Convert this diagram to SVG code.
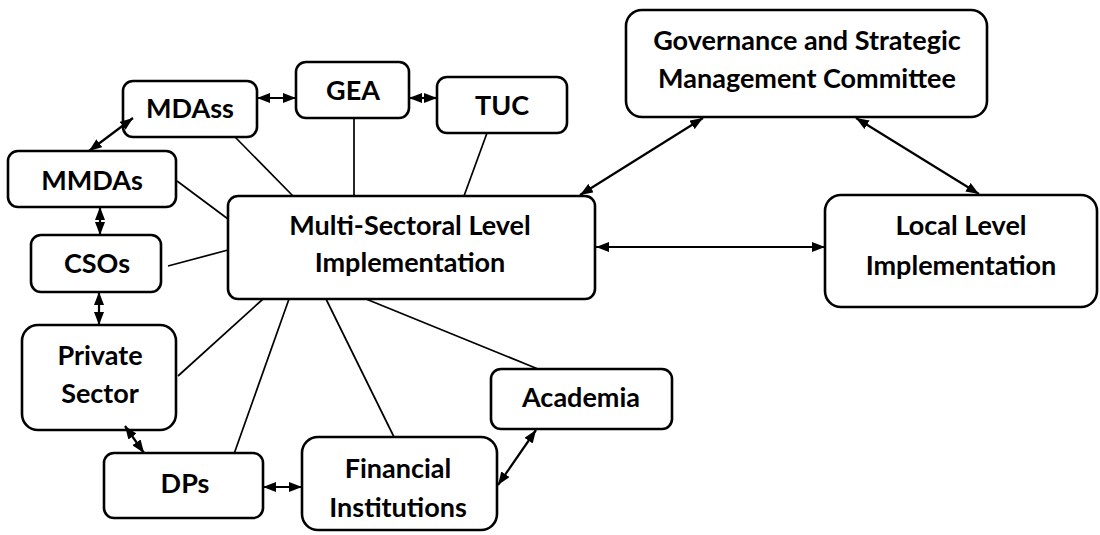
<svg xmlns="http://www.w3.org/2000/svg" width="1100" height="535" viewBox="0 0 1100 535">
  <style>
    .box { fill: #ffffff; stroke: #000000; stroke-width: 2.6; }
    .lbl { font-family: Lato, "Open Sans", "Liberation Sans", sans-serif; font-weight: bold; font-size: 27px; fill: #000000; text-anchor: middle; }
    .link { stroke: #000000; stroke-width: 1.7; fill: none; }
    .both { stroke: #000000; stroke-width: 2.2; fill: none; marker-start: url(#head); marker-end: url(#head); }
  </style>
  <defs>
    <marker id="head" markerUnits="userSpaceOnUse" markerWidth="13" markerHeight="10" refX="13" refY="5" orient="auto-start-reverse">
      <path d="M0,0 L13,5 L0,10 z" fill="#000000"/>
    </marker>
  </defs>

  <rect width="1100" height="535" fill="#ffffff"/>

  <g id="governance">
    <rect class="box" x="626" y="10" width="361" height="107" rx="16"/>
    <text class="lbl" x="807" y="50">Governance and Strategic</text>
    <text class="lbl" x="807" y="88">Management Committee</text>
  </g>
  <g id="local-level">
    <rect class="box" x="825" y="195" width="272" height="112" rx="16"/>
    <text class="lbl" x="961" y="235">Local Level</text>
    <text class="lbl" x="961" y="275">Implementation</text>
  </g>
  <g id="multi-sectoral">
    <rect class="box" x="228" y="196" width="367" height="103" rx="10"/>
    <text class="lbl" x="410" y="235">Multi-Sectoral Level</text>
    <text class="lbl" x="410" y="272">Implementation</text>
  </g>
  <g id="mdass">
    <rect class="box" x="123" y="81" width="134" height="56" rx="10"/>
    <text class="lbl" x="190" y="118">MDAss</text>
  </g>
  <g id="gea">
    <rect class="box" x="296" y="62" width="113" height="56" rx="10"/>
    <text class="lbl" x="353" y="100">GEA</text>
  </g>
  <g id="tuc">
    <rect class="box" x="437" y="77" width="130" height="56" rx="10"/>
    <text class="lbl" x="502" y="115">TUC</text>
  </g>
  <g id="mmdas">
    <rect class="box" x="8" y="151" width="168" height="56" rx="10"/>
    <text class="lbl" x="92" y="190">MMDAs</text>
  </g>
  <g id="csos">
    <rect class="box" x="31" y="235" width="130" height="57" rx="10"/>
    <text class="lbl" x="97" y="273">CSOs</text>
  </g>
  <g id="private-sector">
    <rect class="box" x="22" y="325" width="154" height="105" rx="16"/>
    <text class="lbl" x="100" y="365">Private</text>
    <text class="lbl" x="100" y="403">Sector</text>
  </g>
  <g id="dps">
    <rect class="box" x="104" y="453" width="159" height="65" rx="10"/>
    <text class="lbl" x="185" y="493">DPs</text>
  </g>
  <g id="financial-institutions">
    <rect class="box" x="302" y="437" width="195" height="93" rx="16"/>
    <text class="lbl" x="398" y="478">Financial</text>
    <text class="lbl" x="398" y="517">Institutions</text>
  </g>
  <g id="academia">
    <rect class="box" x="491" y="369" width="181" height="60" rx="10"/>
    <text class="lbl" x="581" y="407">Academia</text>
  </g>

  <!-- connectors, drawn over the box borders so arrowheads stay visible -->
  <g id="connectors">
    <!-- plain spokes into the central box -->
    <line class="link" x1="235" y1="137" x2="293" y2="196"/>
    <line class="link" x1="354" y1="118" x2="354" y2="196"/>
    <line class="link" x1="487" y1="133" x2="464" y2="196"/>
    <line class="link" x1="177" y1="181" x2="228" y2="219"/>
    <line class="link" x1="168" y1="266" x2="228" y2="250"/>
    <line class="link" x1="178" y1="376" x2="263" y2="299"/>
    <line class="link" x1="234" y1="454" x2="289" y2="299"/>
    <line class="link" x1="394" y1="437" x2="326" y2="299"/>
    <line class="link" x1="538" y1="369" x2="366" y2="299"/>
    <!-- two-way links -->
    <line class="both" x1="580" y1="195" x2="703" y2="118"/>
    <line class="both" x1="856" y1="118" x2="979" y2="194"/>
    <line class="both" x1="596" y1="247" x2="825" y2="247"/>
    <line class="both" x1="257" y1="98" x2="296" y2="98"/>
    <line class="both" x1="409" y1="98" x2="437" y2="98"/>
    <line class="both" x1="133" y1="118" x2="89" y2="151"/>
    <line class="both" x1="100" y1="207" x2="100" y2="235"/>
    <line class="both" x1="99" y1="292" x2="99" y2="325"/>
    <line class="both" x1="125" y1="426" x2="144" y2="453"/>
    <line class="both" x1="263" y1="487" x2="302" y2="487"/>
    <line class="both" x1="498" y1="485" x2="536" y2="430"/>
  </g>
</svg>
